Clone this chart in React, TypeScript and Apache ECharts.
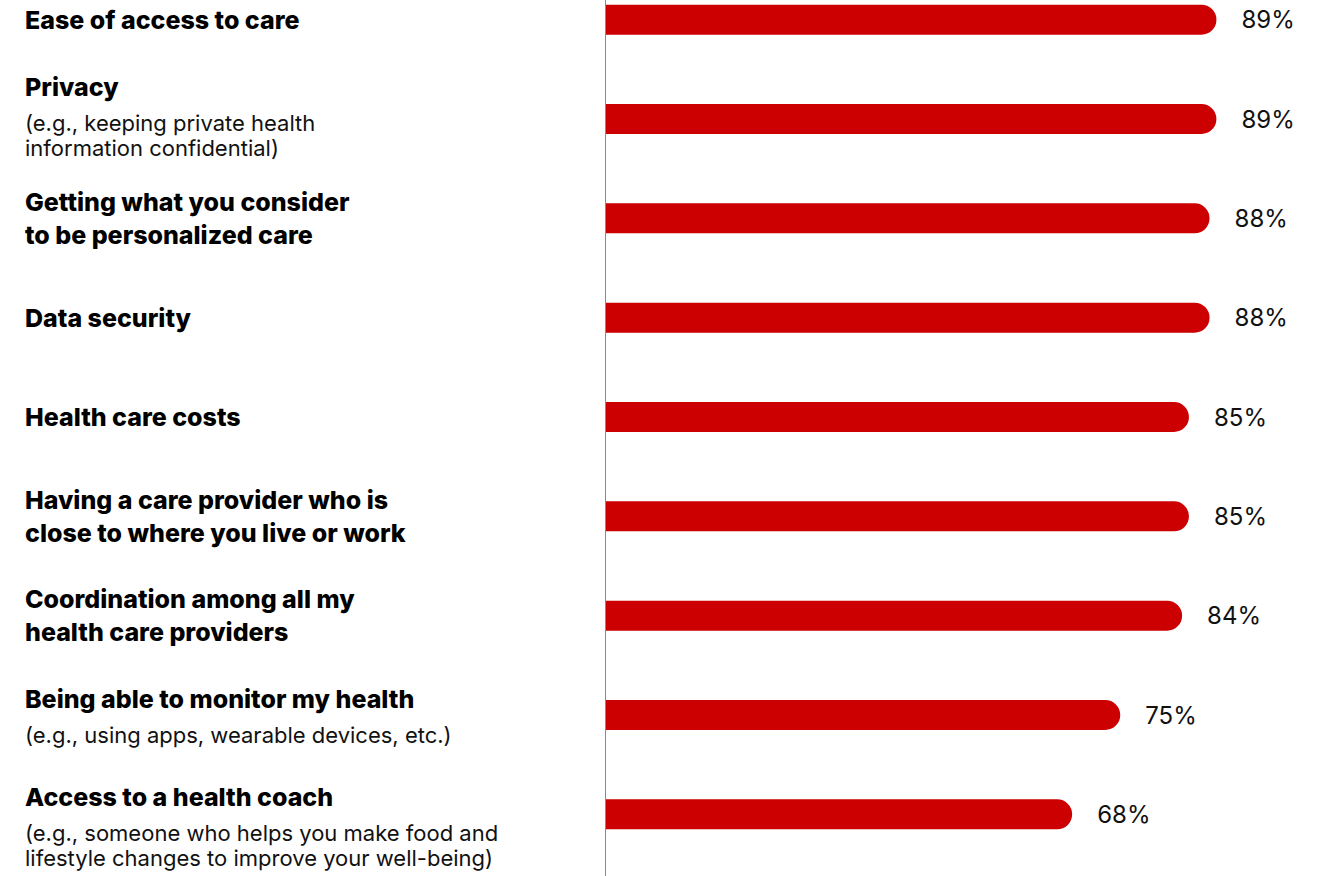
import React, { useEffect, useRef } from "react";
import * as echarts from "echarts";

const titles = [
  "Ease of access to care",
  "Privacy",
  "Getting what you consider\nto be personalized care",
  "Data security",
  "Health care costs",
  "Having a care provider who is\nclose to where you live or work",
  "Coordination among all my\nhealth care providers",
  "Being able to monitor my health",
  "Access to a health coach",
];

const subtitles = [
  "",
  "(e.g., keeping private health\ninformation confidential)",
  "",
  "",
  "",
  "",
  "",
  "(e.g., using apps, wearable devices, etc.)",
  "(e.g., someone who helps you make food and\nlifestyle changes to improve your well-being)",
];

const values = [89, 89, 88, 88, 85, 85, 84, 75, 68];

// label block vertical nudges (layout only)
const labelPadding: number[][] = [
  [0, 0, 0, 0],
  [0, 0, 14, 0],
  [0, 0, 0, 0],
  [0, 0, 0, 0],
  [0, 0, 0, 0],
  [0, 0, 0, 0],
  [0, 0, 0, 0],
  [0, 0, 8, 0],
  [16, 0, 0, 0],
];

const FONT = "Inter, 'Noto Sans', sans-serif";

export default function App() {
  const ref = useRef<HTMLDivElement>(null);

  useEffect(() => {
    document.body.style.margin = "0";
    if (!ref.current) return;
    const chart = echarts.init(ref.current, undefined, { renderer: "svg" });

    const formatter = (_v: string, i: number) => {
      const tLines = titles[i].split("\n");
      const sub = subtitles[i];
      const out: string[] = [];
      tLines.forEach((l, k) => {
        const last = k === tLines.length - 1;
        out.push(`{${sub && last ? "th" : "t"}|${l}}`);
      });
      if (sub) sub.split("\n").forEach((l) => out.push(`{s|${l}}`));
      return out.join("\n");
    };

    chart.setOption({
      animation: false,
      grid: { left: 605, right: 31, top: -30, bottom: 12, outerBoundsMode: "none", containLabel: false },
      xAxis: { type: "value", min: 0, max: 100, show: false },
      yAxis: {
        type: "category",
        inverse: true,
        data: titles.map((t, i) => ({
          value: t,
          textStyle: { align: "left", verticalAlign: "middle", padding: labelPadding[i] },
        })),
        axisLine: { show: false },
        axisTick: { show: false },
        axisLabel: {
          align: "left",
          margin: 580,
          formatter,
          rich: {
            t: { fontFamily: FONT, fontSize: 25, fontWeight: 800, color: "#000", lineHeight: 33, align: "left" },
            th: { fontFamily: FONT, fontSize: 25, fontWeight: 800, color: "#000", lineHeight: 47, align: "left" },
            s: { fontFamily: FONT, fontSize: 22, fontWeight: 400, color: "#111", lineHeight: 25, align: "left" },
          },
        },
      },
      graphic: [
        {
          type: "line",
          shape: { x1: 605.5, y1: 0, x2: 605.5, y2: 876 },
          style: { stroke: "#8a8a8a", lineWidth: 1 },
          z: 10,
        },
      ],
      series: [
        {
          type: "bar",
          data: values,
          barWidth: 30,
          itemStyle: { color: "#CC0000", borderRadius: [0, 15, 15, 0] },
          label: {
            show: true,
            position: "right",
            distance: 25,
            formatter: "{c}%",
            fontFamily: FONT,
            fontSize: 24,
            color: "#111",
          },
        },
      ],
    });

    return () => chart.dispose();
  }, []);

  return <div ref={ref} style={{ width: 1323, height: 876 }} />;
}
